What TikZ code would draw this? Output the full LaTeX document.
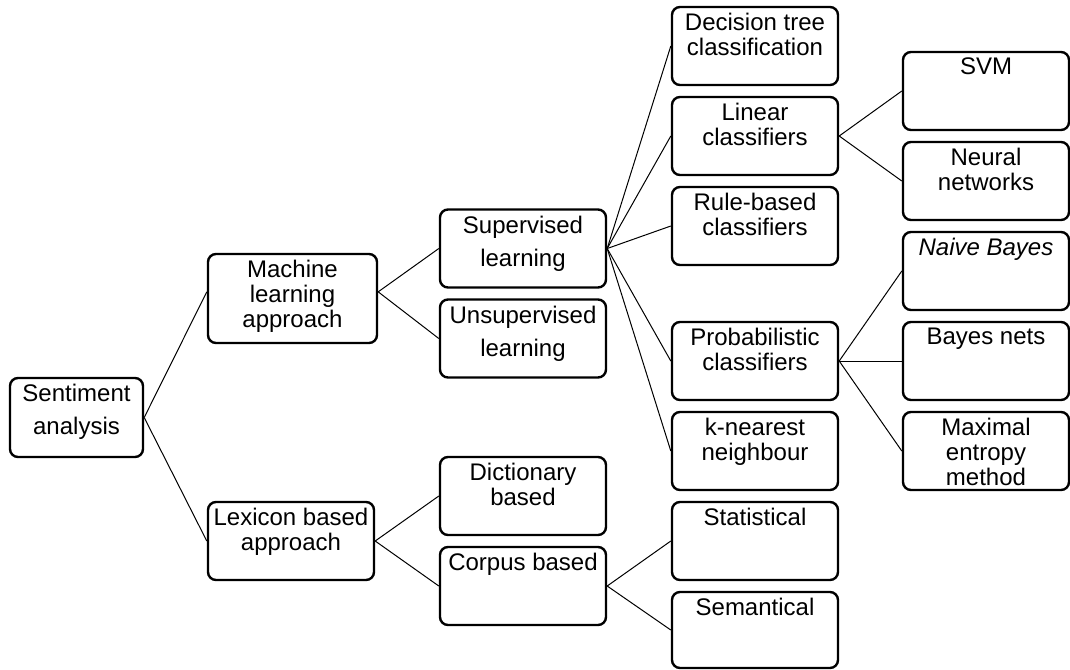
\documentclass[tikz,border=0pt]{standalone}
\usepackage{fontspec}
\setmainfont{Liberation Sans}
\begin{document}
\begin{tikzpicture}[x=0.75pt,y=-0.75pt,
    box/.style={draw, line width=1.8pt, rounded corners=6pt, minimum width=124.5pt, minimum height=58.5pt},
    txt/.style={label={[anchor=north, align=center, yshift=-2pt, font=\fontsize{18}{18.75}\selectfont]north:{#1}}},
    link/.style={line width=0.75pt}]
    \useasboundingbox (0,0) rectangle (1070,669);

    % Raiz y primer nivel
    \node[box, minimum width=99.75pt, minimum height=59.25pt, txt={Sentiment\\[6pt]analysis}] (sent) at (76.5,417.5) {};
    \node[box, minimum width=126.75pt, minimum height=66.75pt, txt={Machine\\learning\\approach}] (ml) at (292.5,298.5) {};
    \node[box, txt={Lexicon based\\approach}] (lex) at (291,541) {};

    % Segundo nivel
    \node[box, txt={Supervised\\[6pt]learning}] (sup) at (523,248.5) {};
    \node[box, txt={Unsupervised\\[6pt]learning}] (unsup) at (523,338.5) {};
    \node[box, txt={Dictionary\\based}] (dict) at (523,496) {};
    \node[box, txt={Corpus based}] (corp) at (523,586) {};

    % Tercer nivel
    \node[box, txt={Decision tree\\classification}] (dtree) at (755,46) {};
    \node[box, txt={Linear\\classifiers}] (lin) at (755,136) {};
    \node[box, txt={Rule-based\\classifiers}] (rule) at (755,226) {};
    \node[box, txt={Probabilistic\\classifiers}] (prob) at (755,361) {};
    \node[box, txt={k-nearest\\neighbour}] (knn) at (755,451) {};
    \node[box, txt={Statistical}] (stat) at (755,541) {};
    \node[box, minimum height=57pt, txt={Semantical}] (sem) at (755,630) {};

    % Cuarto nivel
    \node[box, txt={SVM}] (svm) at (986,91) {};
    \node[box, txt={Neural\\networks}] (nn) at (986,181) {};
    \node[box, txt={\textit{Naive Bayes}}] (nb) at (986,271) {};
    \node[box, txt={Bayes nets}] (bn) at (986,361) {};
    \node[box, txt={Maximal\\entropy\\method}] (maxent) at (986,451) {};

    % Dibuja las conexiones
    \draw[link] (sent.east) -- ([yshift=5pt]ml.west);
    \draw[link] (sent.east) -- (lex.west);
    \foreach \c in {sup,unsup}
        \draw[link] ([yshift=5pt]ml.east) -- (\c.west);
    \foreach \c in {dict,corp}
        \draw[link] (lex.east) -- (\c.west);
    \foreach \c in {dtree,lin,rule,prob,knn}
        \draw[link] (sup.east) -- (\c.west);
    \foreach \c in {stat,sem}
        \draw[link] (corp.east) -- (\c.west);
    \foreach \c in {svm,nn}
        \draw[link] (lin.east) -- (\c.west);
    \foreach \c in {nb,bn,maxent}
        \draw[link] (prob.east) -- (\c.west);
\end{tikzpicture}
\end{document}
